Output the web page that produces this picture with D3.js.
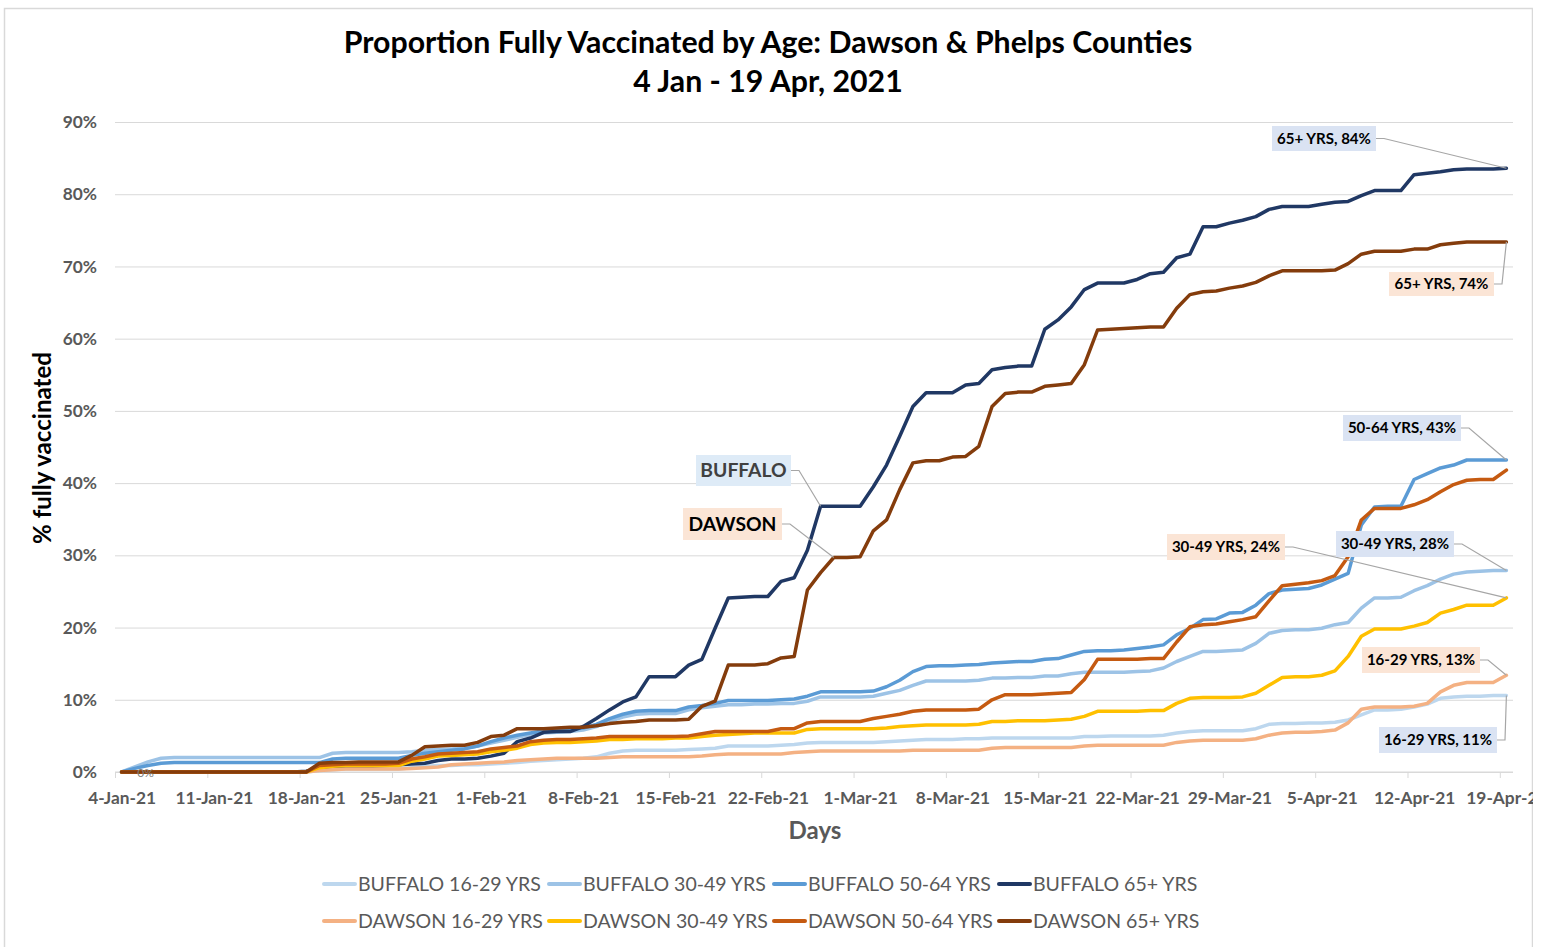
<!DOCTYPE html>
<html>
<head>
<meta charset="utf-8">
<script src="https://cdn.jsdelivr.net/npm/d3@7"></script>
<style>
  body { margin: 0; background: #fff; }
  svg text { font-family: Lato, "Open Sans", sans-serif; }
</style>
</head>
<body>
<script>
// Daily values, % fully vaccinated, 4-Jan-21 .. 19-Apr-21 (one row = one week)
var buffalo16 = [0,0,0,0,0,0,0,
  0,0,0,0,0,0,0,
  0,0.2,0.3,0.4,0.4,0.4,0.4,
  0.4,0.6,0.8,0.9,0.9,1.0,1.0,
  1.1,1.2,1.3,1.5,1.6,1.7,1.8,
  1.9,2.1,2.6,2.9,3.0,3.0,3.0,
  3.0,3.1,3.2,3.3,3.6,3.6,3.6,
  3.6,3.7,3.8,4.0,4.1,4.1,4.1,
  4.1,4.1,4.2,4.3,4.4,4.5,4.5,
  4.5,4.6,4.6,4.7,4.7,4.7,4.7,
  4.7,4.7,4.7,4.9,4.9,5.0,5.0,
  5.0,5.0,5.1,5.4,5.6,5.7,5.7,
  5.7,5.7,6.0,6.6,6.7,6.7,6.8,
  6.8,6.9,7.2,7.9,8.6,8.6,8.7,
  9.0,9.4,10.2,10.4,10.5,10.5,10.6,
  10.6];
var buffalo30 = [0,0.7,1.4,1.9,2.0,2.0,2.0,
  2.0,2.0,2.0,2.0,2.0,2.0,2.0,
  2.0,2.0,2.6,2.7,2.7,2.7,2.7,
  2.7,2.8,3.0,3.1,3.2,3.3,3.6,
  4.0,4.4,4.8,5.2,5.4,5.5,5.6,
  5.8,6.3,7.0,7.6,8.0,8.1,8.1,
  8.1,8.6,8.9,9.1,9.3,9.3,9.4,
  9.4,9.5,9.5,9.8,10.4,10.4,10.4,
  10.4,10.5,10.9,11.3,12.0,12.6,12.6,
  12.6,12.6,12.7,13.0,13.0,13.1,13.1,
  13.3,13.3,13.6,13.8,13.8,13.8,13.8,
  13.9,14.0,14.4,15.3,16.0,16.7,16.7,
  16.8,16.9,17.8,19.2,19.6,19.7,19.7,
  19.9,20.4,20.7,22.7,24.1,24.1,24.2,
  25.1,25.8,26.7,27.4,27.7,27.8,27.9,
  27.9];
var buffalo50 = [0,0.5,0.9,1.2,1.3,1.3,1.3,
  1.3,1.3,1.3,1.3,1.3,1.3,1.3,
  1.3,1.3,1.8,1.9,1.9,1.9,1.9,
  1.9,2.3,2.6,2.8,3.0,3.2,3.6,
  4.2,4.7,5.1,5.4,5.7,5.8,5.9,
  6.1,6.6,7.4,8.0,8.4,8.5,8.5,
  8.5,9.0,9.2,9.5,9.9,9.9,9.9,
  9.9,10.0,10.1,10.5,11.1,11.1,11.1,
  11.1,11.2,11.8,12.7,13.9,14.6,14.7,
  14.7,14.8,14.9,15.1,15.2,15.3,15.3,
  15.6,15.7,16.2,16.7,16.8,16.8,16.9,
  17.1,17.3,17.6,19.0,19.9,21.1,21.2,
  22.0,22.1,23.1,24.7,25.2,25.3,25.4,
  25.9,26.7,27.5,34.2,36.7,36.8,36.8,
  40.5,41.3,42.1,42.5,43.2,43.2,43.2,
  43.2];
var buffalo65 = [0,0,0,0,0,0,0,
  0,0,0,0,0,0,0,
  0.1,0.5,0.8,0.8,0.8,0.8,0.9,
  1.0,1.1,1.2,1.6,1.8,1.8,1.9,
  2.2,2.6,4.2,4.7,5.5,5.6,5.6,
  6.3,7.4,8.6,9.7,10.4,13.2,13.2,
  13.2,14.8,15.6,19.9,24.1,24.2,24.3,
  24.3,26.4,26.9,30.7,36.8,36.8,36.8,
  36.8,39.5,42.5,46.5,50.6,52.5,52.5,
  52.5,53.6,53.8,55.7,56.0,56.2,56.2,
  61.3,62.6,64.4,66.8,67.7,67.7,67.7,
  68.2,69.0,69.2,71.2,71.7,75.5,75.5,
  76.0,76.4,76.9,77.9,78.3,78.3,78.3,
  78.6,78.9,79.0,79.8,80.5,80.5,80.5,
  82.7,82.9,83.1,83.4,83.5,83.5,83.5,
  83.6];
var dawson16 = [0,0,0,0,0,0,0,
  0,0,0,0,0,0,0,
  0,0.2,0.3,0.4,0.4,0.4,0.4,
  0.4,0.5,0.6,0.7,1.0,1.1,1.2,
  1.3,1.4,1.6,1.7,1.8,1.9,1.9,
  1.9,1.9,2.0,2.1,2.1,2.1,2.1,
  2.1,2.1,2.2,2.4,2.5,2.5,2.5,
  2.5,2.5,2.7,2.8,2.9,2.9,2.9,
  2.9,2.9,2.9,2.9,3.0,3.0,3.0,
  3.0,3.0,3.0,3.3,3.4,3.4,3.4,
  3.4,3.4,3.4,3.6,3.7,3.7,3.7,
  3.7,3.7,3.7,4.1,4.3,4.4,4.4,
  4.4,4.4,4.6,5.1,5.4,5.5,5.5,
  5.6,5.8,6.8,8.7,9.0,9.0,9.0,
  9.1,9.5,11.1,12.0,12.4,12.4,12.4,
  13.4];
var dawson30 = [0,0,0,0,0,0,0,
  0,0,0,0,0,0,0,
  0,0.6,0.8,0.9,0.9,0.9,0.9,
  0.9,1.5,1.8,2.2,2.3,2.4,2.5,
  2.8,3.0,3.3,3.8,4.0,4.1,4.1,
  4.2,4.3,4.5,4.5,4.6,4.6,4.6,
  4.7,4.7,4.9,5.1,5.2,5.3,5.4,
  5.4,5.4,5.4,5.9,6.0,6.0,6.0,
  6.0,6.0,6.1,6.3,6.4,6.5,6.5,
  6.5,6.5,6.6,7.0,7.0,7.1,7.1,
  7.1,7.2,7.3,7.7,8.4,8.4,8.4,
  8.4,8.5,8.5,9.5,10.2,10.3,10.3,
  10.3,10.4,10.9,12.0,13.1,13.2,13.2,
  13.4,14.0,16.0,18.8,19.8,19.8,19.8,
  20.2,20.7,22.0,22.5,23.1,23.1,23.1,
  24.1];
var dawson50 = [0,0,0,0,0,0,0,
  0,0,0,0,0,0,0,
  0,0.9,1.0,1.1,1.1,1.1,1.1,
  1.2,1.8,2.1,2.5,2.6,2.7,2.8,
  3.2,3.4,3.6,4.2,4.4,4.5,4.5,
  4.6,4.7,4.9,4.9,4.9,4.9,4.9,
  4.9,5.0,5.3,5.6,5.6,5.6,5.6,
  5.6,6.0,6.0,6.8,7.0,7.0,7.0,
  7.0,7.4,7.7,8.0,8.4,8.6,8.6,
  8.6,8.6,8.7,10.0,10.7,10.7,10.7,
  10.8,10.9,11.0,12.8,15.6,15.6,15.6,
  15.6,15.7,15.7,18.0,20.1,20.4,20.5,
  20.8,21.1,21.5,23.7,25.8,26.0,26.2,
  26.5,27.2,29.8,34.9,36.5,36.5,36.5,
  37.0,37.7,38.8,39.8,40.4,40.5,40.5,
  41.8];
var dawson65 = [0,0,0,0,0,0,0,
  0,0,0,0,0,0,0,
  0,1.2,1.3,1.3,1.4,1.4,1.4,
  1.4,2.3,3.5,3.6,3.7,3.7,4.1,
  4.9,5.1,6.0,6.0,6.0,6.1,6.2,
  6.2,6.4,6.7,6.9,7.0,7.2,7.2,
  7.2,7.3,9.1,9.8,14.8,14.8,14.8,
  15.0,15.8,16.0,25.2,27.6,29.7,29.7,
  29.8,33.4,34.9,39.1,42.8,43.1,43.1,
  43.6,43.7,45.1,50.6,52.4,52.6,52.6,
  53.4,53.6,53.8,56.4,61.2,61.3,61.4,
  61.5,61.6,61.6,64.2,66.1,66.5,66.6,
  67.0,67.3,67.8,68.7,69.4,69.4,69.4,
  69.4,69.5,70.4,71.7,72.1,72.1,72.1,
  72.4,72.4,73.0,73.2,73.4,73.4,73.4,
  73.4];

var seriesNames = ["BUFFALO 16-29 YRS", "BUFFALO 30-49 YRS", "BUFFALO 50-64 YRS", "BUFFALO 65+ YRS",
                   "DAWSON 16-29 YRS", "DAWSON 30-49 YRS", "DAWSON 50-64 YRS", "DAWSON 65+ YRS"];
var seriesColors = ["#BDD7EE", "#9DC3E6", "#5B9BD5", "#203864", "#F4B183", "#FFC000", "#C55A11", "#843C0C"];
var seriesValues = [buffalo16, buffalo30, buffalo50, buffalo65, dawson16, dawson30, dawson50, dawson65];

var startDate = new Date(2021, 0, 4),
    endDate = new Date(2021, 3, 20);
var days = d3.timeDay.range(startDate, endDate);           // 106 daily categories
var weekTicks = d3.timeDay.range(startDate, endDate, 7);   // 4-Jan-21 ... 19-Apr-21
var yTicks = [0, 10, 20, 30, 40, 50, 60, 70, 80, 90];

// End-of-line callouts and the two county callouts
var callouts = [
  {s: 3, day: 105, text: "65+ YRS, 84%",   box: [1272, 126, 104, 25], fill: "#DAE3F3", size: "end"},
  {s: 7, day: 105, text: "65+ YRS, 74%",   box: [1389, 272, 105, 24], fill: "#FBE5D6", size: "end"},
  {s: 2, day: 105, text: "50-64 YRS, 43%", box: [1343, 415, 118, 26], fill: "#DAE3F3", size: "end"},
  {s: 5, day: 105, text: "30-49 YRS, 24%", box: [1167, 534, 118, 26], fill: "#FBE5D6", size: "end"},
  {s: 1, day: 105, text: "30-49 YRS, 28%", box: [1336, 531, 118, 26], fill: "#DAE3F3", size: "end"},
  {s: 4, day: 105, text: "16-29 YRS, 13%", box: [1362, 647, 118, 26], fill: "#FBE5D6", size: "end"},
  {s: 0, day: 105, text: "16-29 YRS, 11%", box: [1379, 727, 118, 26], fill: "#DAE3F3", size: "end"},
  {s: 3, day: 53,  text: "BUFFALO",        box: [696, 455, 95, 31],   fill: "#DEEBF7", size: "big", color: "#404040"},
  {s: 7, day: 54,  text: "DAWSON",         box: [683, 508, 99, 32],   fill: "#FBE5D6", size: "big", color: "#000"}
];

var width = 1541, height = 947;
var plot = {left: 115, right: 1513, top: 122, bottom: 772};

var svg = d3.select("body").append("svg")
    .attr("width", width)
    .attr("height", height);

svg.append("clipPath").attr("id", "frameClip")
  .append("rect").attr("x", 0).attr("y", 0).attr("width", 1533).attr("height", height);

var root = svg.append("g").attr("clip-path", "url(#frameClip)");

// chart border
root.append("rect")
    .attr("x", 4.5).attr("y", 8.5)
    .attr("width", 1528).attr("height", 1000)
    .attr("fill", "none")
    .attr("stroke", "#D9D9D9")
    .attr("stroke-width", 1.5);

//scales
var x = d3.scaleTime().domain([startDate, endDate]).range([plot.left, plot.right]);
var y = d3.scaleLinear().domain([0, 90]).range([plot.bottom, plot.top]);
var halfDay = (x(days[1]) - x(days[0])) / 2;
function px(d) { return x(d) + halfDay; }

// helper: scale a font-size so a sample text gets the wanted width
function fitSize(sample, target) {
  var t = root.append("text").attr("font-size", 20)
      .attr("font-weight", sample.weight || "normal").text(sample.text);
  var w = t.node().getComputedTextLength();
  t.remove();
  return 20 * target / w;
}
var fsTitle = fitSize({text: "Proportion Fully Vaccinated by Age: Dawson & Phelps Counties", weight: "bold"}, 849);
var fsTick = fitSize({text: "11-Jan-21", weight: "bold"}, 78);
var fsAxisTitle = fitSize({text: "% fully vaccinated", weight: "bold"}, 192);
var fsLegend = fitSize({text: "BUFFALO 16-29 YRS"}, 183);
var fsEnd = fitSize({text: "65+ YRS, 84%", weight: "bold"}, 94);
var fsBig = fitSize({text: "DAWSON", weight: "bold"}, 88);

//gridlines
root.append("g")
    .attr("transform", "translate(" + plot.left + ",0)")
    .call(d3.axisLeft(y).tickValues(yTicks).tickSize(-(plot.right - plot.left)).tickFormat(""))
    .call(function(g) { g.select(".domain").remove(); })
    .selectAll("line").attr("stroke", "#D9D9D9").attr("stroke-width", 1);

//y axis labels
root.append("g")
    .attr("transform", "translate(" + plot.left + ",0)")
    .call(d3.axisLeft(y).tickValues(yTicks).tickSize(0).tickPadding(18).tickFormat(function(d) { return d + "%"; }))
    .call(function(g) { g.select(".domain").remove(); })
    .selectAll("text")
    .attr("font-family", "Lato, sans-serif")
    .attr("font-size", fsTick)
    .attr("font-weight", "bold")
    .attr("fill", "#595959");

//x axis
var xAxis = root.append("g")
    .attr("transform", "translate(0," + plot.bottom + ")")
    .call(d3.axisBottom(x).tickValues(weekTicks).tickSize(6).tickFormat(d3.timeFormat("%-d-%b-%y")));
xAxis.select(".domain").attr("stroke", "#D9D9D9").attr("d", "M" + plot.left + ",0H" + plot.right);
xAxis.selectAll("line").attr("stroke", "#D9D9D9");
xAxis.selectAll("text")
    .attr("x", halfDay)
    .attr("y", 26)
    .attr("dy", "0.35em")
    .attr("font-family", "Lato, sans-serif")
    .attr("font-size", fsTick)
    .attr("font-weight", "bold")
    .attr("fill", "#595959");

//lines
var line = d3.line()
    .x(function(d, i) { return px(days[i]); })
    .y(function(d) { return y(d); });

root.append("g").selectAll("path")
  .data(seriesValues)
  .enter().append("path")
    .attr("d", line)
    .attr("fill", "none")
    .attr("stroke", function(d, i) { return seriesColors[i]; })
    .attr("stroke-width", 3.5)
    .attr("stroke-linejoin", "round")
    .attr("stroke-linecap", "round");

// the lone "0%" data label at the start
root.append("text")
    .attr("x", px(days[0]) + 24)
    .attr("y", y(0) + 5)
    .attr("text-anchor", "middle")
    .attr("font-size", 12)
    .attr("fill", "#7F7F7F")
    .text("0%");

//callouts
var cg = root.append("g").selectAll("g")
  .data(callouts)
  .enter().append("g");

cg.append("path")
    .attr("fill", "none")
    .attr("stroke", "#A6A6A6")
    .attr("stroke-width", 1.2)
    .attr("d", function(c) {
      var bx = c.box[0] + c.box[2], by = c.box[1] + c.box[3] / 2;
      return "M" + bx + "," + by + "H" + (bx + 8) +
             "L" + px(days[c.day]) + "," + y(seriesValues[c.s][c.day]);
    });

cg.append("rect")
    .attr("x", function(c) { return c.box[0]; })
    .attr("y", function(c) { return c.box[1]; })
    .attr("width", function(c) { return c.box[2]; })
    .attr("height", function(c) { return c.box[3]; })
    .attr("fill", function(c) { return c.fill; });

cg.append("text")
    .attr("x", function(c) { return c.box[0] + c.box[2] / 2; })
    .attr("y", function(c) { return c.box[1] + c.box[3] / 2; })
    .attr("dy", "0.36em")
    .attr("text-anchor", "middle")
    .attr("font-weight", "bold")
    .attr("font-size", function(c) { return c.size === "big" ? fsBig : fsEnd; })
    .attr("fill", function(c) { return c.color || "#000"; })
    .text(function(c) { return c.text; });

//titles
root.append("text")
    .attr("x", 768).attr("y", 42).attr("dy", "0.35em")
    .attr("text-anchor", "middle")
    .attr("font-weight", "bold")
    .attr("font-size", fsTitle)
    .text("Proportion Fully Vaccinated by Age: Dawson & Phelps Counties");

root.append("text")
    .attr("x", 768).attr("y", 81).attr("dy", "0.35em")
    .attr("text-anchor", "middle")
    .attr("font-weight", "bold")
    .attr("font-size", fsTitle)
    .text("4 Jan - 19 Apr, 2021");

root.append("text")
    .attr("x", 815).attr("y", 831).attr("dy", "0.35em")
    .attr("text-anchor", "middle")
    .attr("font-weight", "bold")
    .attr("font-size", fsAxisTitle)
    .attr("fill", "#595959")
    .text("Days");

root.append("text")
    .attr("transform", "translate(43,448) rotate(-90)")
    .attr("dy", "0.35em")
    .attr("text-anchor", "middle")
    .attr("font-weight", "bold")
    .attr("font-size", fsAxisTitle)
    .attr("fill", "#000")
    .text("% fully vaccinated");

//legend
var legendCols = [322, 547, 772, 997],
    legendRows = [884, 921];

var lg = root.append("g").selectAll("g")
  .data(seriesNames)
  .enter().append("g")
    .attr("transform", function(d, i) {
      return "translate(" + legendCols[i % 4] + "," + legendRows[Math.floor(i / 4)] + ")";
    });

lg.append("line")
    .attr("x1", 2).attr("x2", 33)
    .attr("y1", 0).attr("y2", 0)
    .attr("stroke", function(d, i) { return seriesColors[i]; })
    .attr("stroke-width", 4)
    .attr("stroke-linecap", "round");

lg.append("text")
    .attr("x", 36)
    .attr("dy", "0.35em")
    .attr("font-size", fsLegend)
    .attr("fill", "#595959")
    .text(function(d) { return d; });
</script>
</body>
</html>
